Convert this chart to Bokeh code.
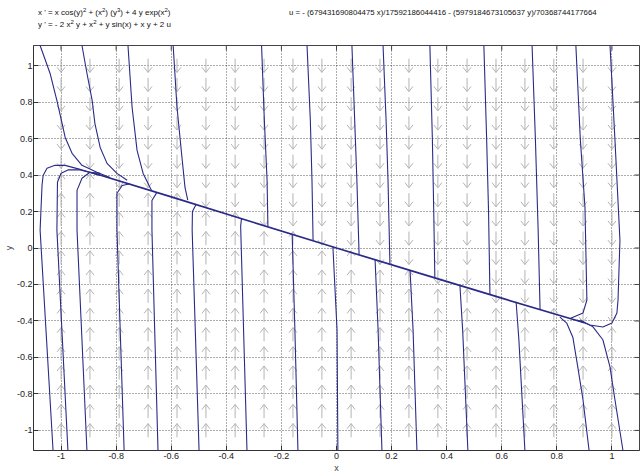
import numpy as np
from bokeh.plotting import figure
from bokeh.models import Range1d, FixedTicker, Div
from bokeh.layouts import column
from bokeh.embed import file_html
from bokeh.resources import INLINE

# ---- axes / ticks ----
ticks = [-1, -0.8, -0.6, -0.4, -0.2, 0, 0.2, 0.4, 0.6, 0.8, 1]
tick_labels = ["-1", "-0.8", "-0.6", "-0.4", "-0.2", "0", "0.2", "0.4", "0.6", "0.8", "1"]

eq1 = "x ' = x cos(y)<sup>2</sup> + (x<sup>2</sup>) (y<sup>3</sup>) + 4 y exp(x<sup>2</sup>)"
eq2 = "y ' = - 2 x<sup>2</sup> y + x<sup>2</sup> + y sin(x) + x y + 2 u"
eq3 = "u = - (679431690804475 x)/17592186044416 - (5979184673105637 y)/70368744177664"

# ---- direction-field grid (arrow positions) ----
arrow_x = [-1.0, -0.895, -0.789, -0.684, -0.579, -0.474, -0.368, -0.263, -0.158, -0.053,
           0.053, 0.158, 0.263, 0.368, 0.474, 0.579, 0.684, 0.789, 0.895, 1.0]
arrow_y = [-1.0, -0.895, -0.789, -0.684, -0.579, -0.474, -0.368, -0.263, -0.158, -0.053,
           0.053, 0.158, 0.263, 0.368, 0.474, 0.579, 0.684, 0.789, 0.895, 1.0]

# ---- slow manifold (where the orbits gather) ----
manifold_x = [-0.88, -0.6, -0.3, 0.0, 0.3, 0.6, 0.9]
manifold_y = [0.41, 0.28, 0.14, 0.0, -0.138, -0.275, -0.41]

# ---- orbits entering from the top ----
top_orbits = [
    ([-1.076, -1.040, -1.015, -0.996, -0.985, -0.960, -0.924, -0.870, -0.822],
     [1.11, 0.958, 0.808, 0.682, 0.606, 0.519, 0.453, 0.415, 0.387]),
    ([-0.924, -0.906, -0.887, -0.877, -0.858, -0.833, -0.797, -0.760],
     [1.11, 0.958, 0.808, 0.682, 0.551, 0.464, 0.409, 0.371]),
    ([-0.757, -0.742, -0.724, -0.702, -0.672],
     [1.11, 0.770, 0.535, 0.409, 0.316]),
    ([-0.593, -0.579, -0.561, -0.550, -0.540],
     [1.11, 0.770, 0.496, 0.332, 0.262]),
    ([-0.272, -0.262, -0.252, -0.249], [1.11, 0.70, 0.371, 0.117]),
    ([-0.107, -0.095, -0.089, -0.085], [1.11, 0.70, 0.371, 0.043]),
    ([0.056, 0.066, 0.074, 0.082], [1.11, 0.70, 0.371, -0.036]),
    ([0.169, 0.180, 0.187, 0.194], [1.11, 0.70, 0.371, -0.087]),
    ([0.339, 0.348, 0.353, 0.357], [1.11, 0.60, 0.20, -0.162]),
    ([0.535, 0.545, 0.552, 0.557], [1.11, 0.60, 0.20, -0.253]),
    ([0.710, 0.722, 0.732, 0.739], [1.11, 0.60, 0.10, -0.335]),
    ([0.869, 0.885, 0.902, 0.909, 0.895, 0.850], [1.11, 0.60, 0.223, -0.285, -0.356, -0.385]),
    ([0.993, 1.011, 1.029, 1.022, 1.018, 1.000, 0.967, 0.920, 0.873],
     [1.11, 0.589, 0.043, -0.285, -0.356, -0.411, -0.433, -0.422, -0.395]),
]

# ---- orbits entering from the bottom ----
bottom_orbits = [
    ([-1.029, -1.076, -1.069, -1.065, -1.051, -1.022, -0.985, -0.931, -0.858],
     [-1.11, 0.098, 0.344, 0.398, 0.437, 0.453, 0.453, 0.431, 0.398]),
    ([-0.975, -1.015, -1.013, -1.000, -0.975, -0.930, -0.870],
     [-1.11, 0.098, 0.360, 0.410, 0.428, 0.428, 0.405]),
    ([-0.906, -0.942, -0.942, -0.924, -0.895, -0.858],
     [-1.11, 0.098, 0.316, 0.382, 0.415, 0.409]),
    ([-0.771, -0.797, -0.797, -0.778, -0.750], [-1.11, 0.098, 0.300, 0.343, 0.352]),
    ([-0.648, -0.670, -0.670, -0.652], [-1.11, 0.098, 0.260, 0.305]),
    ([-0.499, -0.524, -0.523, -0.510], [-1.11, 0.098, 0.200, 0.238]),
    ([-0.325, -0.348, -0.345], [-1.11, 0.12, 0.160]),
    ([-0.140, -0.151, -0.161], [-1.11, -0.45, 0.076]),
    ([0.005, 0.002, -0.013], [-1.11, -0.45, 0.005]),
    ([0.165, 0.151, 0.140], [-1.11, -0.45, -0.063]),
    ([0.292, 0.278, 0.267], [-1.11, -0.45, -0.121]),
    ([0.477, 0.458, 0.448], [-1.11, -0.45, -0.203]),
    ([0.684, 0.662, 0.652], [-1.11, -0.50, -0.295]),
    ([0.917, 0.895, 0.876, 0.858, 0.836, 0.811], [-1.11, -0.833, -0.653, -0.489, -0.412, -0.379]),
    ([1.040, 1.011, 0.993, 0.967, 0.931, 0.884], [-1.11, -0.833, -0.653, -0.503, -0.432, -0.394]),
]

ORBIT = "#2a2a88"
ARROW = "#b4b4b4"
FONT = "Liberation Sans"
X0, X1, Y0, Y1 = -1.1, 1.1, -1.11, 1.11

# ---- header with the equations ----
header_html = (
    '<div style="position:relative;width:641px;height:36px;font-family:\'Liberation Sans\';'
    'font-size:8px;line-height:10px;color:#111;white-space:nowrap;">'
    '<style>sup{font-size:6px;line-height:0;vertical-align:3px;}</style>'
    '<span style="position:absolute;left:38px;top:8px;">' + eq1 + '</span>'
    '<span style="position:absolute;left:38px;top:20px;">' + eq2 + '</span>'
    '<span style="position:absolute;left:289px;top:8px;font-size:7.8px;">' + eq3 + '</span>'
    '</div>'
)
header = Div(text=header_html, width=641, height=36, margin=(0, 0, 0, 0))

p = figure(width=641, height=439, x_range=Range1d(X0, X1), y_range=Range1d(Y0, Y1),
           output_backend="svg", toolbar_location=None, margin=(0, 0, 0, 0),
           min_border_left=0, min_border_right=2, min_border_top=9, min_border_bottom=0)
p.background_fill_color = "white"
p.border_fill_color = "white"
p.outline_line_color = "#444444"

for ax in (p.xaxis[0], p.yaxis[0]):
    ax.ticker = FixedTicker(ticks=ticks)
    ax.major_label_overrides = dict(zip(ticks, tick_labels))
    ax.major_tick_in = 5
    ax.major_tick_out = 0
    ax.minor_tick_line_color = None
    ax.major_label_text_font = FONT
    ax.major_label_text_font_size = "9px"
    ax.major_label_text_color = "#222222"
    ax.axis_line_color = "#333333"
    ax.major_tick_line_color = "#333333"
    ax.major_label_standoff = 2
    ax.axis_label_text_font = FONT
    ax.axis_label_text_font_size = "9px"
    ax.axis_label_text_font_style = "normal"
    ax.axis_label_text_color = "#444444"
    ax.axis_label_standoff = 1
p.yaxis.major_label_standoff = 1
p.yaxis.axis_label_standoff = 0
p.xaxis.axis_label = "x"
p.yaxis.axis_label = "y"

p.xgrid.ticker = FixedTicker(ticks=ticks)
p.ygrid.ticker = FixedTicker(ticks=ticks)
for g in (p.xgrid[0], p.ygrid[0]):
    g.grid_line_color = "#222222"
    g.grid_line_alpha = 0.75
    g.grid_line_dash = "1 2"

# inside tick marks on the right and top edges of the box
tx = 5 * (X1 - X0) / 605
ty = 5 * (Y1 - Y0) / 404
p.segment(x0=[X1 - tx] * len(ticks), y0=ticks, x1=[X1] * len(ticks), y1=ticks,
          line_color="#444444", line_width=1)
p.segment(x0=ticks, y0=[Y1 - ty] * len(ticks), x1=ticks, y1=[Y1] * len(ticks),
          line_color="#444444", line_width=1)

# ---- direction field arrows ----
L = 0.075      # arrow length (y units)
HL = 0.028     # head length
HW = 0.0145    # half head width (x units)
xs, ys = [], []
for ax_ in arrow_x:
    my = float(np.interp(ax_, manifold_x, manifold_y))
    for ay in arrow_y:
        d = -1.0 if ay > my else 1.0
        tail = ay - d * L / 2
        tip = ay + d * L / 2
        xs.append([ax_, ax_]); ys.append([tail, tip])
        xs.append([ax_ - HW, ax_, ax_ + HW]); ys.append([tip - d * HL, tip, tip - d * HL])
p.multi_line(xs, ys, line_color=ARROW, line_width=1)

# ---- orbits ----
oxs = [list(o[0]) for o in top_orbits + bottom_orbits]
oys = [list(o[1]) for o in top_orbits + bottom_orbits]
p.multi_line(oxs, oys, line_color=ORBIT, line_width=1.1)
p.line(manifold_x, manifold_y, line_color=ORBIT, line_width=1.7)

layout = column(header, p, spacing=0)
open("out.html", "w").write(file_html(layout, INLINE))
